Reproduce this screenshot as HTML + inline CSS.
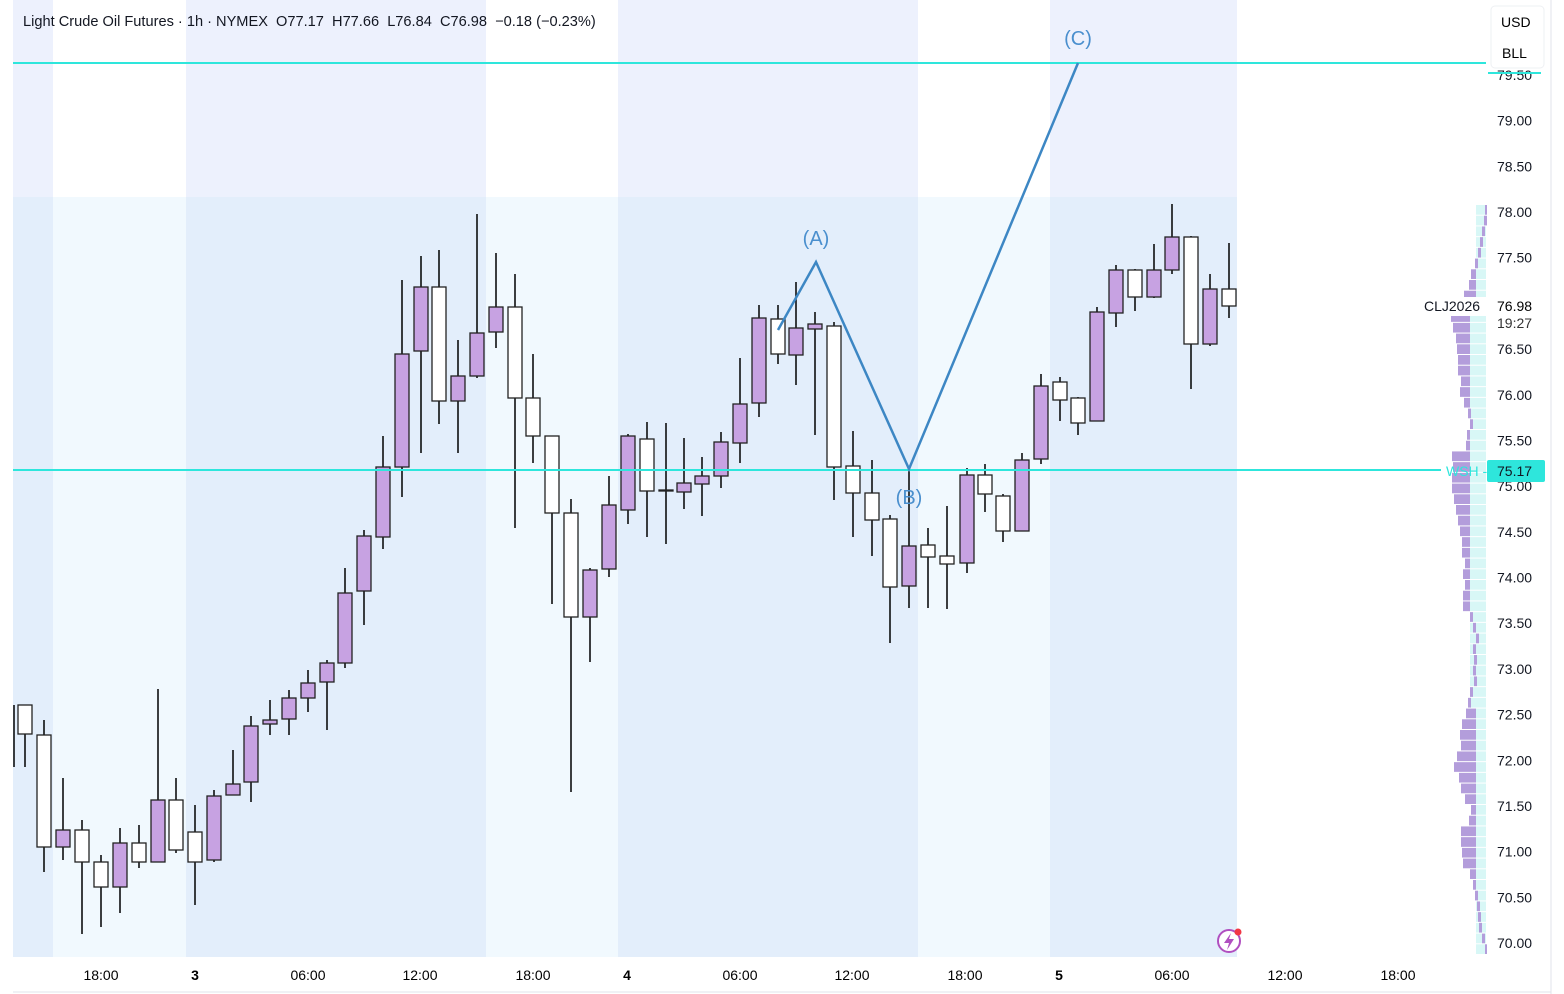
<!DOCTYPE html>
<html><head><meta charset="utf-8"><style>
html,body{margin:0;padding:0;background:#fff;}
body{width:1564px;height:994px;overflow:hidden;position:relative;font-family:"Liberation Sans",sans-serif;color:#131722;}
svg{position:absolute;left:0;top:0;}
</style></head><body>
<svg id="s" width="1564" height="994" xmlns="http://www.w3.org/2000/svg" font-family="Liberation Sans, sans-serif"></svg>
<script>
const s=document.getElementById('s');let h='';
function R(x,y,w,hh,f,extra){h+=`<rect x="${x}" y="${y}" width="${w}" height="${hh}" fill="${f}" ${extra||''}/>`;}
R(13,0,1473,957,'#fff');
const bands=[[13,53,1],[53,186,0],[186,486,1],[486,618,0],[618,918,1],[918,1050,0],[1050,1237,1]];
bands.forEach(b=>{R(b[0],0,b[1]-b[0],197,b[2]?'#edf1fd':'#ffffff');R(b[0],197,b[1]-b[0],760,b[2]?'#e3eefb':'#f1f9fe');});
const L=[1485,1484,1482,1480,1478,1475,1471,1469,1464,1459,
1451,1453,1456,1457,1458,1458,1461,1460,1464,1468,1470,1467,1466,
1452,1453,1452,1452,1454,1456,1458,1460,1462,1462,1465,1463,1465,
1463,1463,1470,1473,1476,1473,1474,1473,1474,1470,1468,1466,1462,1460,1461,1457,1454,1459,1461,1465,1471,1469,1461,1461,1462,1463,1470,1473,1475,1477,1478,1479,1482,1485];
const rh=750/L.length;
L.forEach((l,i)=>{const y=205+i*rh;const mid=(y>310&&y<700)?1470:1476;
 R(mid,y,1486-mid,rh-1,'#d8f7f6');
 const pr=Math.max(l+3,mid);R(l,y,pr-l,rh-1,'#b39ddb');});
R(1420,297,66,19,'#fff');
const C=[[25,0,705,734,705,767],[44,0,735,847,720,872],[63,1,830,847,778,860],[82,0,830,862,820,934],[101,0,862,887,855,927],[120,1,843,887,828,913],[139,0,843,862,825,868],[158,1,800,862,689,862],[176,0,800,850,778,853],[195,0,832,862,805,905],[214,1,796,860,790,862],[233,1,784,795,750,795],[251,1,726,782,716,802],[270,1,720,724,700,735],[289,1,698,719,690,735],[308,1,683,698,670,712],[327,1,663,682,660,730],[345,1,593,663,568,668],[364,1,536,591,530,625],[383,1,467,537,436,549],[402,1,354,467,280,497],[421,1,287,351,256,453],[439,0,287,401,250,424],[458,1,376,401,340,453],[477,1,333,376,214,378],[496,1,307,332,253,348],[515,0,307,398,274,528],[533,0,398,436,354,463],[552,0,436,513,436,604],[571,0,513,617,499,792],[590,1,570,617,568,662],[609,1,505,569,476,577],[628,1,436,510,434,524],[647,0,439,491,422,537],[666,0,490,490,423,544],[684,1,483,492,438,509],[702,1,476,484,457,516],[721,1,442,476,432,488],[740,1,404,443,358,463],[759,1,318,403,305,417],[778,0,319,354,305,364],[796,1,328,355,282,385],[815,1,324,329,312,435],[834,0,326,467,322,500],[853,0,466,493,431,537],[872,0,493,520,460,556],[890,0,519,587,515,643],[909,1,546,586,470,608],[928,0,545,557,528,608],[947,0,556,564,506,609],[967,1,475,563,468,573],[985,0,475,494,464,512],[1003,0,496,531,494,542],[1022,1,460,531,453,531],[1041,1,386,459,374,464],[1060,0,382,400,377,421],[1078,0,398,423,397,435],[1097,1,312,421,307,421],[1116,1,270,313,265,327],[1135,0,270,297,269,311],[1154,1,270,297,244,298],[1172,1,237,270,204,274],[1191,0,237,344,236,389],[1210,1,289,344,274,346],[1229,0,289,306,243,318]];
h+=`<line x1="14" y1="705" x2="14" y2="767" stroke="#000" stroke-width="1.5"/>`;
C.forEach(c=>{const [x,p,t,b,hi,lo]=c;
 h+=`<line x1="${x}" y1="${hi}" x2="${x}" y2="${lo}" stroke="#000" stroke-width="1.5"/>`;
 h+=`<rect x="${x-7}" y="${t}" width="14" height="${Math.max(b-t,1)}" fill="${p?'#c7a2e2':'#fff'}" stroke="#222" stroke-width="1.3"/>`;});
h+=`<line x1="13" y1="63" x2="1486" y2="63" stroke="#2ee6dc" stroke-width="2"/>`;
h+=`<line x1="13" y1="470" x2="1441" y2="470" stroke="#2ee6dc" stroke-width="2"/>`;
h+=`<text x="1446" y="476" font-size="14" fill="#2ee6dc">WSH -</text>`;
h+=`<polyline points="778,330 816,262 909,469 1078,63" fill="none" stroke="#3d87c4" stroke-width="2.5"/>`;
h+=`<g font-size="20" fill="#4a8fce" text-anchor="middle"><text x="816" y="245">(A)</text><text x="909" y="504">(B)</text><text x="1078" y="45">(C)</text></g>`;
h+=`<rect x="1487" y="0" width="64" height="957" fill="#fff"/>`;
h+=`<line x1="1551" y1="0" x2="1551" y2="994" stroke="#e0e3eb"/>`;
h+=`<line x1="13" y1="992" x2="1551" y2="992" stroke="#e0e3eb"/>`;
for(let p=70;p<=79.51;p+=0.5){const y=212+(78-p)*91.375;if(Math.abs(y-470)<14||Math.abs(y-306)<14)continue;
 h+=`<text x="1497" y="${y+5}" font-size="14" fill="#131722">${p.toFixed(2)}</text>`;}
h+=`<line x1="1488" y1="73" x2="1541" y2="73" stroke="#2ee6dc" stroke-width="2"/>`;
h+=`<rect x="1487" y="460" width="58" height="22" rx="2" fill="#2ee6dc"/><text x="1497" y="476" font-size="14" fill="#131722">75.17</text>`;
h+=`<text x="1424" y="311" font-size="14" fill="#131722">CLJ2026</text><text x="1497" y="311" font-size="14">76.98</text><text x="1497" y="328" font-size="14" fill="#333">19:27</text>`;
h+=`<rect x="1491" y="6" width="53" height="62" rx="4" fill="#fff" stroke="#eef0f3"/>`;
h+=`<text x="1501" y="27" font-size="14">USD</text><text x="1502" y="58" font-size="14">BLL</text>`;
const T=[[101,'18:00'],[195,'3',1],[308,'06:00'],[420,'12:00'],[533,'18:00'],[627,'4',1],[740,'06:00'],[852,'12:00'],[965,'18:00'],[1059,'5',1],[1172,'06:00'],[1285,'12:00'],[1398,'18:00']];
T.forEach(t=>{h+=`<text x="${t[0]}" y="980" font-size="14" text-anchor="middle" ${t[2]?'font-weight="bold"':''}>${t[1]}</text>`;});
h+=`<text x="23" y="26" font-size="14.6" fill="#131722" xml:space="preserve">Light Crude Oil Futures · 1h · NYMEX  O77.17  H77.66  L76.84  C76.98  −0.18 (−0.23%)</text>`;
h+=`<circle cx="1229" cy="941" r="11" fill="#fff" stroke="#b04fc0" stroke-width="2"/><path d="M1231 933 L1224 943 L1229 943 L1227 950 L1234 939 L1229 939 Z" fill="#b04fc0"/><circle cx="1238" cy="932" r="3.5" fill="#f23645"/>`;
s.innerHTML=h;
</script>
</body></html>
